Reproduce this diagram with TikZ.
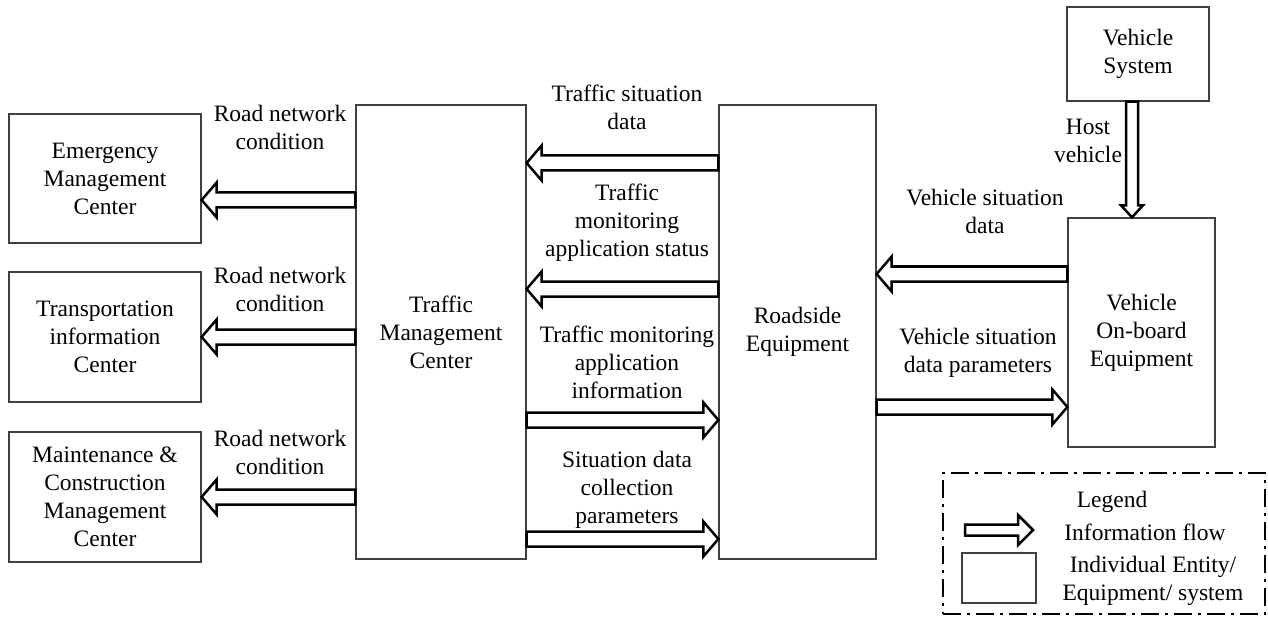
\documentclass[tikz,border=0pt]{standalone}
\usepackage{fontspec}
\setmainfont{Liberation Serif}
\usetikzlibrary{calc}
\tikzset{
  box/.style={draw=black!75, line width=1.3pt, align=center, inner sep=0pt, font=\fontsize{23.5}{28}\selectfont},
  lbl/.style={align=center, inner sep=0pt, font=\fontsize{23.5}{28}\selectfont},
  flowline/.style={draw=black, line width=2.5pt, fill=white, line join=miter},
  legendframe/.style={draw=black, line width=2.5pt, dash pattern=on 18pt off 6pt on 3pt off 6pt, inner sep=0pt},
}
% horizontal hollow arrow: from, to, shaft half-height, head half-height, head length
\newcommand\hflowx[5]{\draw[flowline] let \p1=(#1), \p2=(#2), \n1={sign(\x2-\x1)} in
  (\x1,\y1+#3) -- (\x2-\n1*#5,\y1+#3) -- (\x2-\n1*#5,\y1+#4) -- (\x2,\y1)
  -- (\x2-\n1*#5,\y1-#4) -- (\x2-\n1*#5,\y1-#3) -- (\x1,\y1-#3) -- cycle;}
\newcommand\hflow[2]{\hflowx{#1}{#2}{7.5pt}{17.5pt}{15pt}}
% vertical hollow arrow
\newcommand\vflow[2]{\draw[flowline] let \p1=(#1), \p2=(#2), \n1={sign(\y2-\y1)} in
  (\x1-6pt,\y1) -- (\x1-6pt,\y2-\n1*12pt) -- (\x1-11pt,\y2-\n1*12pt) -- (\x1,\y2)
  -- (\x1+11pt,\y2-\n1*12pt) -- (\x1+6pt,\y2-\n1*12pt) -- (\x1+6pt,\y1) -- cycle;}
\begin{document}
\begin{tikzpicture}[x=1pt,y=-1pt]
\useasboundingbox (0,0) rectangle (1268,620);

% boxes
\node[box, minimum width=192pt, minimum height=129pt] (emc) at (105,178.5) {Emergency\\Management\\Center};
\node[box, minimum width=192pt, minimum height=130pt] (tic) at (105,337) {Transportation\\information\\Center};
\node[box, minimum width=192pt, minimum height=130pt] (mcc) at (105,497) {Maintenance \&\\Construction\\Management\\Center};
\node[box, minimum width=170pt, minimum height=454pt] (tmc) at (441,332) {Traffic\\Management\\Center};
\node[box, minimum width=157pt, minimum height=454pt] (rse) at (797.5,332) {Roadside\\Equipment};
\node[box, minimum width=142pt, minimum height=94pt] (vs) at (1138,54) {Vehicle\\System};
\node[box, minimum width=147pt, minimum height=229pt] (vobe) at (1141.5,332.5) {Vehicle\\On-board\\Equipment};

% labels
\node[lbl] (rn1) at (280,127) {Road network\\condition};
\node[lbl] (rn2) at (280,289) {Road network\\condition};
\node[lbl] (rn3) at (280,452) {Road network\\condition};
\node[lbl] (tsd) at (627,107) {Traffic situation\\data};
\node[lbl] (tmas) at (627,223) {Traffic\\monitoring\\application status};
\node[lbl] (tmai) at (627,362) {Traffic monitoring\\application\\information};
\node[lbl] (sdcp) at (627,490) {Situation data\\collection\\parameters};
\node[lbl] (vsd) at (985,211) {Vehicle situation\\data};
\node[lbl] (vsdp) at (978,353) {Vehicle situation\\data parameters};
\node[lbl] (hv) at (1088,141) {Host\\vehicle};

% flows
\hflow{tmc.west |- 0,200}{emc.east |- 0,200}
\hflow{tmc.west |- 0,337}{tic.east |- 0,337}
\hflow{tmc.west |- 0,497}{mcc.east |- 0,497}
\hflow{rse.west |- 0,163}{tmc.east |- 0,163}
\hflow{rse.west |- 0,289}{tmc.east |- 0,289}
\hflow{tmc.east |- 0,420}{rse.west |- 0,420}
\hflow{tmc.east |- 0,539}{rse.west |- 0,539}
\hflow{vobe.west |- 0,274}{rse.east |- 0,274}
\hflow{rse.east |- 0,407}{vobe.west |- 0,407}
\vflow{vs.south -| 1132,0}{vobe.north -| 1132,0}

% legend
\node[legendframe, minimum width=322pt, minimum height=141pt] (legend) at (1104,543.5) {};
\node[lbl] (lt1) at (1112,502) {Legend};
\coordinate (lfs) at (965,530);
\coordinate (lfe) at (1033,530);
\hflowx{lfs}{lfe}{5.5pt}{15pt}{15pt}
\node[lbl] (lt2) at (1145,532) {Information flow};
\node[box, minimum width=74pt, minimum height=50pt] (lrect) at (999,578) {};
\node[lbl] (lt3) at (1153,581) {Individual Entity/\\Equipment/ system};
\end{tikzpicture}
\end{document}
